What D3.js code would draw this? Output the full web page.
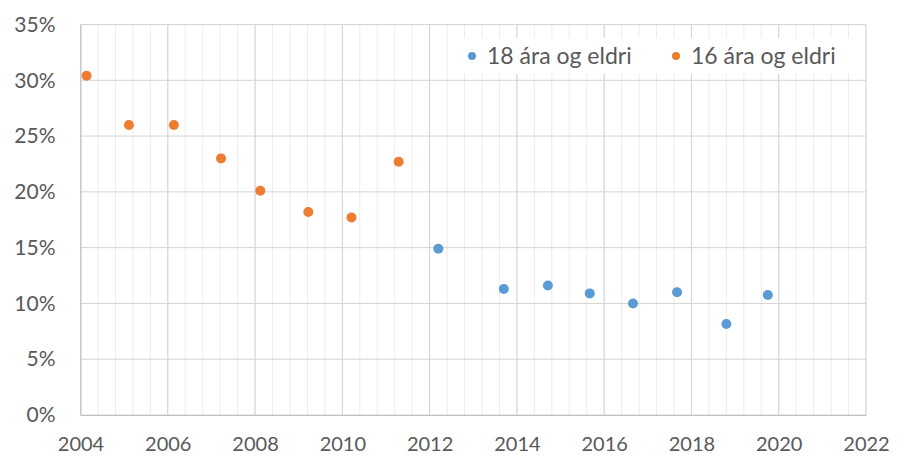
<!DOCTYPE html>
<html>
<head>
<meta charset="utf-8">
<script src="https://cdn.jsdelivr.net/npm/d3@7"></script>
<style>
  body { margin: 0; background: #fff; }
  svg text { font-family: Lato, "Open Sans", sans-serif; fill: #595959; }
</style>
</head>
<body>
<div id="chart"></div>
<script>
// 16 ára og eldri (2004-2011)
const years16 = [2004.14, 2005.11, 2006.14, 2007.22, 2008.12, 2009.22, 2010.21, 2011.29];
const values16 = [30.4, 26.0, 26.0, 23.0, 20.1, 18.2, 17.7, 22.7];
// 18 ára og eldri (2012-2019)
const years18 = [2012.2, 2013.7, 2014.71, 2015.67, 2016.66, 2017.67, 2018.8, 2019.75];
const values18 = [14.9, 11.3, 11.6, 10.9, 10.0, 11.0, 8.15, 10.75];

const xTicks = [2004, 2006, 2008, 2010, 2012, 2014, 2016, 2018, 2020, 2022];
const yTicks = [0, 5, 10, 15, 20, 25, 30, 35];
const seriesNames = ["18 ára og eldri", "16 ára og eldri"];
const seriesColors = ["#5b9bd5", "#ed7d31"];

const W = 908, H = 458;

const svg = d3.select("#chart")
    .append("svg")
    .attr("width", W)
    .attr("height", H);

const x = d3.scaleLinear()
    .domain([2004, 2022])
    .range([80.5, 866]);

const y = d3.scaleLinear()
    .domain([0, 35])
    .range([415, 24.5]);

// minor vertical grid (every 0.4 yr)
svg.append("g")
    .selectAll("line")
    .data(d3.range(0, 46).map(i => 2004 + i * 0.4))
    .enter()
    .append("line")
    .attr("x1", d => x(d)).attr("x2", d => x(d))
    .attr("y1", y(35)).attr("y2", y(0))
    .attr("stroke", "#ececec")
    .attr("stroke-width", 1);

// major grid
svg.append("g")
    .selectAll("line")
    .data(xTicks)
    .enter()
    .append("line")
    .attr("x1", d => x(d)).attr("x2", d => x(d))
    .attr("y1", y(35)).attr("y2", y(0))
    .attr("stroke", "#d4d4d4");

svg.append("g")
    .selectAll("line")
    .data(yTicks)
    .enter()
    .append("line")
    .attr("x1", x(2004)).attr("x2", x(2022))
    .attr("y1", d => y(d)).attr("y2", d => y(d))
    .attr("stroke", "#d4d4d4");

// axes
const yAxis = svg.append("g")
    .attr("transform", `translate(${x(2004)},0)`)
    .call(d3.axisLeft(y).tickValues(yTicks).tickFormat(d => d + "%").tickSize(0).tickPadding(25));
yAxis.select(".domain").attr("stroke", "#bfbfbf");
yAxis.selectAll("text").style("font-size", "21px").attr("fill", "#595959");

const xAxis = svg.append("g")
    .attr("transform", `translate(0,${y(0)})`)
    .call(d3.axisBottom(x).tickValues(xTicks).tickFormat(d3.format("d")).tickSize(0).tickPadding(22));
xAxis.select(".domain").attr("stroke", "#bfbfbf");
xAxis.selectAll("text").style("font-size", "20px").attr("fill", "#595959");

// legend
const legend = svg.append("g");
legend.append("rect")
    .attr("x", 462).attr("y", 38).attr("width", 390).attr("height", 36)
    .attr("fill", "#fff");
const legendX = [472, 676];
seriesNames.forEach((name, i) => {
    legend.append("circle")
        .attr("cx", legendX[i]).attr("cy", 56).attr("r", 4)
        .attr("fill", seriesColors[i]);
    legend.append("text")
        .attr("x", legendX[i] + 15).attr("y", 56).attr("dy", "0.35em")
        .style("font-size", "23px")
        .text(name);
});

// points
svg.append("g")
    .selectAll("circle")
    .data(years16.map((d, i) => ({ year: d, value: values16[i] })))
    .enter()
    .append("circle")
    .attr("cx", d => x(d.year))
    .attr("cy", d => y(d.value))
    .attr("r", 5)
    .attr("fill", seriesColors[1]);

svg.append("g")
    .selectAll("circle")
    .data(years18.map((d, i) => ({ year: d, value: values18[i] })))
    .enter()
    .append("circle")
    .attr("cx", d => x(d.year))
    .attr("cy", d => y(d.value))
    .attr("r", 5)
    .attr("fill", seriesColors[0]);
</script>
</body>
</html>
